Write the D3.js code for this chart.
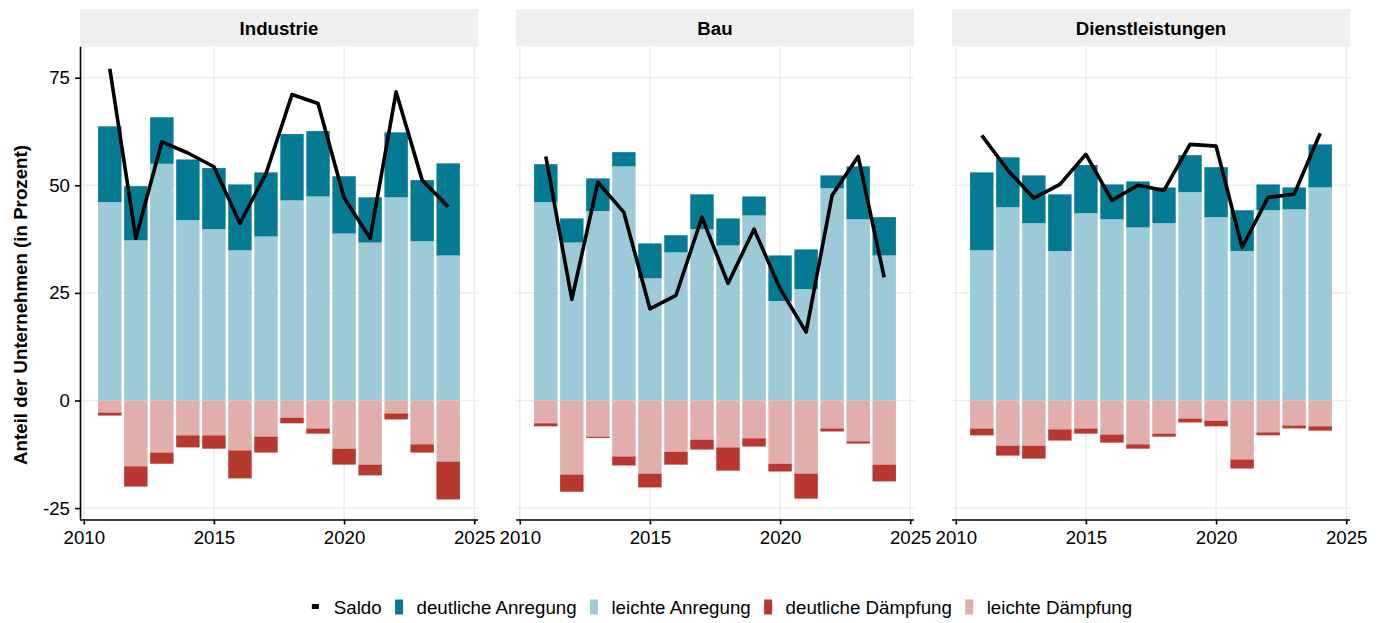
<!DOCTYPE html>
<html>
<head>
<meta charset="utf-8">
<script src="https://cdn.jsdelivr.net/npm/d3@7"></script>
<style>
  body { margin: 0; background: #fff; }
  svg { display: block; }
  text { font-family: "Liberation Sans", Arial, Helvetica, sans-serif; fill: #000; }
</style>
</head>
<body>
<svg id="chart" width="1383" height="623"></svg>
<script>
// ---- Data (Anteil der Unternehmen in Prozent) ----
const years = [2011, 2012, 2013, 2014, 2015, 2016, 2017, 2018, 2019, 2020, 2021, 2022, 2023, 2024];
const sectorNames = ["Industrie", "Bau", "Dienstleistungen"];
const seriesNames = ["Saldo", "deutliche Anregung", "leichte Anregung", "deutliche Dämpfung", "leichte Dämpfung"];
const yTicks = [-25, 0, 25, 50, 75];
const xTicks = [2010, 2015, 2020, 2025];

// Industrie
const industrieSaldo        = [77.1, 37.7, 60.1, 57.5, 54.3, 41.2, 52.7, 71.1, 69.0, 47.1, 37.7, 71.7, 51.2, 45.0];
const industrieDeutlichAnr  = [17.6, 12.6, 10.8, 14.1, 14.2, 15.3, 14.9, 15.4, 15.2, 13.3, 10.5, 15.1, 14.2, 21.4];
const industrieLeichtAnr    = [46.1, 37.2, 55.0, 41.9, 39.8, 34.9, 38.1, 46.5, 47.4, 38.8, 36.7, 47.2, 37.0, 33.7];
const industrieDeutlichDaem = [-0.7, -4.7, -2.6, -2.8, -3.1, -6.5, -3.7, -1.3, -1.2, -3.7, -2.5, -1.4, -1.9, -8.8];
const industrieLeichtDaem   = [-2.8, -15.3, -12.1, -8.1, -8.1, -11.6, -8.4, -4.0, -6.5, -11.2, -14.9, -3.0, -10.2, -14.2];

// Bau
const bauSaldo        = [56.7, 23.5, 50.7, 43.7, 21.3, 24.4, 42.6, 27.2, 39.8, 26.0, 15.9, 47.7, 56.7, 28.6];
const bauDeutlichAnr  = [8.8, 5.6, 7.6, 3.3, 8.1, 4.0, 8.1, 6.3, 4.4, 10.6, 9.2, 3.0, 12.3, 8.9];
const bauLeichtAnr    = [46.1, 36.7, 44.0, 54.4, 28.4, 34.4, 39.8, 36.0, 43.0, 23.1, 25.9, 49.3, 42.1, 33.7];
const bauDeutlichDaem = [-0.7, -4.0, -0.3, -2.1, -3.2, -3.0, -2.3, -5.4, -1.9, -1.8, -5.8, -0.7, -0.5, -3.9];
const bauLeichtDaem   = [-5.3, -17.2, -8.4, -13.0, -17.0, -11.9, -9.1, -10.9, -8.8, -14.7, -17.0, -6.5, -9.5, -14.9];

// Dienstleistungen
const dienstSaldo        = [61.6, 53.5, 47.0, 50.2, 57.2, 46.5, 50.0, 48.8, 59.5, 59.1, 35.6, 47.2, 47.9, 62.1];
const dienstDeutlichAnr  = [18.1, 11.6, 11.1, 13.2, 11.2, 8.1, 10.7, 8.3, 8.6, 11.6, 9.5, 6.0, 5.1, 10.0];
const dienstLeichtAnr    = [34.9, 44.9, 41.2, 34.7, 43.5, 42.1, 40.2, 41.2, 48.4, 42.6, 34.7, 44.2, 44.4, 49.5];
const dienstDeutlichDaem = [-1.6, -2.3, -3.0, -2.6, -1.2, -1.9, -1.0, -0.7, -0.9, -1.3, -2.1, -0.7, -0.7, -1.0];
const dienstLeichtDaem   = [-6.5, -10.5, -10.5, -6.7, -6.5, -7.9, -10.2, -7.7, -4.2, -4.7, -13.7, -7.4, -5.8, -6.0];

// ---- Appearance ----
const colors = {
  "Saldo": "#000000",
  "deutliche Anregung": "#057a93",
  "leichte Anregung": "#9ccad6",
  "deutliche Dämpfung": "#b8372f",
  "leichte Dämpfung": "#e1aeab"
};
const fontSize = 18.7;
const gridColor = "#ebebeb";

// ---- Assemble panels ----
const panels = [
  { name: sectorNames[0], saldo: industrieSaldo, dA: industrieDeutlichAnr, lA: industrieLeichtAnr, dD: industrieDeutlichDaem, lD: industrieLeichtDaem },
  { name: sectorNames[1], saldo: bauSaldo, dA: bauDeutlichAnr, lA: bauLeichtAnr, dD: bauDeutlichDaem, lD: bauLeichtDaem },
  { name: sectorNames[2], saldo: dienstSaldo, dA: dienstDeutlichAnr, lA: dienstLeichtAnr, dD: dienstDeutlichDaem, lD: dienstLeichtDaem }
];

const svg = d3.select("#chart");

const panelLeft = [80, 516, 952];
const panelWidth = 398;
const plotTop = 46.7, plotBottom = 519.5;
const stripTop = 9;

const y = d3.scaleLinear().domain([-27.65, 82.2]).range([plotBottom, plotTop]);
const barHalf = 0.45;

panels.forEach((p, i) => {
  const g = svg.append("g").attr("transform", `translate(${panelLeft[i]},0)`);
  const x = d3.scaleLinear().domain([2009.855, 2025.145]).range([0, panelWidth]);

  // strip
  g.append("rect")
    .attr("x", 0).attr("y", stripTop)
    .attr("width", panelWidth).attr("height", plotTop - stripTop)
    .attr("fill", "#efefef");
  g.append("text")
    .attr("x", panelWidth / 2).attr("y", (stripTop + plotTop) / 2)
    .attr("dy", "0.36em")
    .attr("text-anchor", "middle")
    .attr("font-weight", "bold")
    .attr("font-size", fontSize)
    .text(p.name);

  // grid
  g.append("g").selectAll("line").data(yTicks).join("line")
    .attr("x1", 0).attr("x2", panelWidth)
    .attr("y1", d => y(d)).attr("y2", d => y(d))
    .attr("stroke", gridColor).attr("stroke-width", 1.4);
  g.append("g").selectAll("line").data(xTicks).join("line")
    .attr("x1", d => x(d)).attr("x2", d => x(d))
    .attr("y1", plotTop).attr("y2", plotBottom)
    .attr("stroke", gridColor).attr("stroke-width", 1.4);

  // stacked bars
  const rows = years.map((yr, k) => ({
    year: yr,
    segs: [
      { key: "leichte Anregung", y0: 0, y1: p.lA[k] },
      { key: "deutliche Anregung", y0: p.lA[k], y1: p.lA[k] + p.dA[k] },
      { key: "leichte Dämpfung", y0: 0, y1: p.lD[k] },
      { key: "deutliche Dämpfung", y0: p.lD[k], y1: p.lD[k] + p.dD[k] }
    ]
  }));
  const segs = rows.flatMap(r => r.segs.map(s => ({ ...s, year: r.year })));
  g.append("g").selectAll("rect").data(segs).join("rect")
    .attr("x", d => x(d.year - barHalf))
    .attr("width", d => x(d.year + barHalf) - x(d.year - barHalf))
    .attr("y", d => y(Math.max(d.y0, d.y1)))
    .attr("height", d => Math.abs(y(d.y0) - y(d.y1)))
    .attr("fill", d => colors[d.key]);

  // Saldo line
  const line = d3.line().x((d, k) => x(years[k])).y(d => y(d));
  g.append("path")
    .datum(p.saldo)
    .attr("d", line)
    .attr("fill", "none")
    .attr("stroke", colors["Saldo"])
    .attr("stroke-width", 3.6)
    .attr("stroke-linejoin", "round");

  // x axis
  const xAxis = d3.axisBottom(x).tickValues(xTicks).tickFormat(d => String(d)).tickSize(5).tickPadding(6);
  const ax = g.append("g").attr("transform", `translate(0,${plotBottom})`).call(xAxis);
  ax.select(".domain").attr("stroke", "#000").attr("stroke-width", 1.6).attr("d", `M0,0.5H${panelWidth}`);
  ax.selectAll(".tick line").attr("stroke", "#000").attr("stroke-width", 1.6);
  ax.selectAll(".tick text").attr("font-size", fontSize).attr("font-family", null).attr("fill", "#000");

  // y axis on the first panel only
  if (i === 0) {
    const yAxis = d3.axisLeft(y).tickValues(yTicks).tickFormat(d => String(d)).tickSize(5).tickPadding(5);
    const ay = g.append("g").call(yAxis);
    ay.select(".domain").attr("stroke", "#000").attr("stroke-width", 1.6)
      .attr("d", `M0.5,${plotTop}V${plotBottom}`);
    ay.selectAll(".tick line").attr("stroke", "#000").attr("stroke-width", 1.6);
    ay.selectAll(".tick text").attr("font-size", fontSize).attr("font-family", null).attr("fill", "#000");
  }
});

// y axis title
svg.append("text")
  .attr("transform", "translate(26.5,305) rotate(-90)")
  .attr("text-anchor", "middle")
  .attr("font-weight", "bold")
  .attr("font-size", fontSize)
  .text("Anteil der Unternehmen (in Prozent)");

// legend
const legendGap = 13.4;
const legend = svg.append("g");
let cx = 0;
seriesNames.forEach((name, k) => {
  const it = legend.append("g");
  if (k === 0) {
    it.append("rect").attr("x", 0).attr("y", -3).attr("width", 7).attr("height", 5).attr("fill", colors[name]);
  } else {
    it.append("rect").attr("x", 0).attr("y", -7.5).attr("width", 8).attr("height", 15).attr("fill", colors[name]);
  }
  const tx = k === 0 ? 22 : 21.5;
  const t = it.append("text")
    .attr("x", tx)
    .attr("dy", "0.35em")
    .attr("font-size", fontSize)
    .text(name);
  const w = tx + t.node().getComputedTextLength();
  it.attr("transform", `translate(${cx},0)`);
  cx += w + legendGap;
});
const totalW = cx - legendGap;
legend.attr("transform", `translate(${722 - totalW / 2},607)`);
</script>
</body>
</html>
